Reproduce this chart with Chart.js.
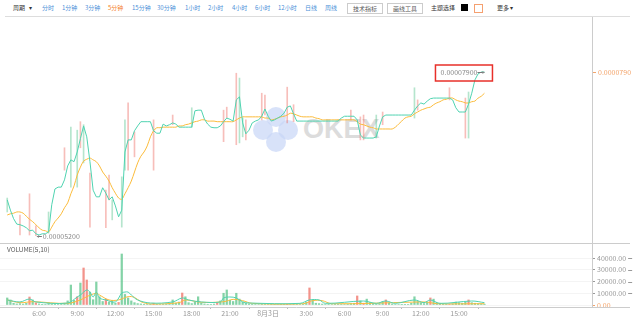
<!DOCTYPE html>
<html>
<head>
<meta charset="utf-8">
<script src="https://cdn.jsdelivr.net/npm/chart.js@4.4.1/dist/chart.umd.min.js"></script>
<style>
  html, body { margin:0; padding:0; background:#fff; width:640px; height:324px; overflow:hidden;
    font-family:"Noto Sans CJK SC","Noto Sans",sans-serif; }
  #bar span { position:absolute; top:2px; line-height:11px; font-size:6px; white-space:nowrap; color:#4a8fd8; }
  #bar .dark { color:#333; }
  #bar .on { color:#f5812c; }
  #bar .btn { top:3px; height:9px; line-height:9px; width:34px; text-align:center; border:1px solid #ccc; color:#555; }
  #bar .sw { top:4px; width:7px; height:7px; }
  #rule { position:absolute; left:5px; top:16px; width:625px; height:1px; background:#ddd; }
  .dot { position:absolute; width:20px; height:20px; border-radius:50%; background:rgba(200,214,246,0.7); z-index:0; }
  #okex { position:absolute; left:303px; top:116px; font:bold 27px/27px "Liberation Sans",Arial,sans-serif; color:#dcdcdc; z-index:0; }
  #volLabel { position:absolute; left:7px; top:245px; font-size:6.5px; line-height:8px; color:#555; z-index:2; }
  canvas { position:absolute; left:0; z-index:1; }
</style>
</head>
<body>
<div id="bar">
  <span class="dark" style="left:13px">周期</span>
  <span class="dark" style="left:29px">▾</span>
  <span style="left:42px">分时</span>
  <span style="left:62px">1分钟</span>
  <span style="left:85px">3分钟</span>
  <span class="on" style="left:108px">5分钟</span>
  <span style="left:132px">15分钟</span>
  <span style="left:157px">30分钟</span>
  <span style="left:185px">1小时</span>
  <span style="left:208px">2小时</span>
  <span style="left:232px">4小时</span>
  <span style="left:255px">6小时</span>
  <span style="left:278px">12小时</span>
  <span style="left:305px">日线</span>
  <span style="left:325px">周线</span>
  <span class="btn" style="left:347px">技术指标</span>
  <span class="btn" style="left:387px">画线工具</span>
  <span class="dark" style="left:431px">主题选择</span>
  <span class="sw" style="left:461px;background:#000"></span>
  <span class="sw" style="left:474px;background:#fff;border:1px solid #f5a070"></span>
  <span class="dark" style="left:497px">更多</span>
  <span class="dark" style="left:510px">▾</span>
</div>
<div id="rule"></div>
<div class="dot" style="left:253px;top:120px"></div>
<div class="dot" style="left:266px;top:107px"></div>
<div class="dot" style="left:278px;top:120px"></div>
<div class="dot" style="left:266px;top:132px"></div>
<div id="okex">OKEX</div>
<div id="volLabel">VOLUME(5,10)</div>
<canvas id="price" width="640" height="226" style="top:17px"></canvas>
<canvas id="vol" width="640" height="81" style="top:243px"></canvas>
<script>
(() => {
  //─── DATA (prices in units of 1e-8, one slot = 15 min from 3:30) ─────────
  const closes = [
    5790,5620,5480,5390,5380,5360,5330,5280,5290,5230,
    5210,5230,5230,5260,5710,5970,6000,6000,6120,6350,
    6450,6420,6580,6800,7010,6830,6420,5950,5840,5840,
    5990,5900,5790,5840,5690,5510,5620,6580,6780,6780,
    6930,7010,7080,7080,7080,7080,6930,6890,6890,7040,
    7010,7030,7060,7040,6990,6990,6990,6990,6990,7260,
    7270,7270,7120,7040,6990,6980,6980,7010,7080,7140,
    7120,7090,7440,7490,7060,6880,6940,7060,7090,7110,
    7170,7290,7170,7090,7110,7140,7170,7220,7320,7340,
    7210,7090,7090,7090,7090,7090,7090,7090,7090,7090,
    7090,7090,7090,7090,7090,7140,7170,7170,7170,7170,
    7110,6860,6810,6810,6810,6810,6830,7010,7160,7190,
    7190,7190,7190,7190,7190,7190,7190,7190,7270,7340,
    7390,7370,7420,7460,7470,7470,7470,7470,7470,7470,
    7440,7310,7240,7240,7240,7370,7550,7770,7870,7900,7900
  ];
  const maLine = [
    5540,5560,5570,5590,5590,5570,5520,5470,5430,5380,
    5330,5290,5280,5260,5340,5430,5490,5560,5660,5740,
    5890,6020,6200,6330,6430,6460,6480,6450,6420,6350,
    6250,6180,6100,5990,5900,5820,5800,5890,5990,6100,
    6250,6400,6510,6580,6680,6830,6930,6980,6980,6990,
    6990,6990,6990,6990,7010,7010,7030,7040,7060,7080,
    7090,7110,7110,7090,7090,7090,7080,7080,7080,7080,
    7080,7080,7110,7140,7160,7160,7160,7160,7160,7160,
    7160,7140,7140,7110,7120,7140,7160,7170,7190,7220,
    7210,7190,7170,7160,7160,7160,7160,7140,7130,7110,
    7110,7110,7110,7110,7110,7110,7110,7110,7110,7110,
    7080,7040,7030,7010,6990,6980,6960,6960,6960,6960,
    6960,6960,6990,7040,7090,7140,7160,7170,7210,7240,
    7270,7290,7310,7320,7360,7390,7410,7440,7450,7470,
    7470,7440,7420,7410,7390,7390,7410,7420,7470,7500,7550
  ];
  // visible wicks: slot, low, high, 1 = rising candle
  const wickSlots = [0,4,7,9,13,18,20,22,23,24,26,31,32,33,36,37,38,40,46,52,58,68,69,72,73,74,75,80,81,88,90,108,111,112,116,118,128,129,139,144,145];
  const wickLows  = [5590,5210,5210,5200,5240,6280,6000,6000,6650,6400,5340,5330,5790,5460,5340,6280,6280,6500,6280,7030,6990,6750,7140,6700,6730,6830,6780,7110,7190,7060,7080,7110,6780,6780,6810,7030,7140,7270,7440,6810,6810];
  const wickHighs = [5820,5540,5890,5360,5590,6650,6990,6940,7080,7030,6230,5950,6200,5790,6170,7110,7390,6910,7110,7190,7310,7270,7320,7880,7800,7140,7110,7550,7520,7650,7360,7270,7160,7190,7190,7240,7640,7440,7640,7470,7570];
  const wickRise  = [1,0,0,0,1,0,1,1,0,1,0,0,0,1,1,1,0,0,0,0,1,0,0,0,1,1,0,0,0,0,0,0,0,0,1,0,1,0,0,0,1];

  const volumes = [
    6000,4300,1500,900,1200,800,1500,6800,4300,1800,
    900,600,500,1200,800,600,500,900,1500,3500,
    17000,4000,7000,18700,31500,21300,11000,4500,19600,7000,
    3000,5000,2500,4000,1500,2200,43400,9000,6000,3500,
    2000,1200,900,600,500,700,1500,600,400,500,
    700,1200,4300,1500,2500,10200,7000,2000,1200,2500,
    7000,1800,900,600,500,800,2000,3500,10000,12800,
    4000,3000,10000,5000,2500,1500,900,600,500,400,
    700,500,400,300,300,400,300,500,700,400,
    300,300,400,300,2500,14500,4000,1500,1200,800,
    500,600,400,300,300,500,400,300,1200,1500,
    7700,3500,1500,5000,2000,1500,800,1200,3000,4300,
    1800,900,500,400,300,300,500,1500,7000,3000,
    2000,1200,2500,6000,5000,2000,1500,800,600,500,
    1000,2500,2000,1500,2500,4300,2000,1500,1200,900,700
  ];
  const volDownSlots = [7,9,22,24,25,31,35,46,55,66,88,95,110,112,119,133,139,145];
  const volMa5Slots  = [0,4,7,9,19,22,23,25,26,27,28,29,31,34,36,37,38,39,41,45,52,55,57,61,67,68,70,72,74,76,92,95,98,100,112,116,119,122,128,131,133,136,146,150];
  const volMa5       = [4300,2600,5100,2600,1700,6800,8500,12800,11000,6800,11000,6000,4300,2600,10200,11000,11000,8500,4300,1700,2600,6000,4300,2600,2600,6000,6800,6000,2600,1700,1400,4300,4300,1400,3400,1400,3400,1400,4300,2000,4300,1400,3400,2000];
  const volMa10Slots = [0,4,8,19,23,25,28,29,32,35,38,40,42,45,54,56,61,68,71,74,77,93,96,99,102,128,132,135,150];
  const volMa10      = [4300,2000,2800,1400,4300,7100,10000,8500,4300,4300,7100,6500,2800,900,2000,4300,2300,2800,4800,3700,1400,1100,3700,3700,1100,2500,2500,1100,1100];

  const xTickSlots  = [10,22,34,46,58,70,82,94,106,118,130,142];
  const xTickLabels = ['6:00','9:00','12:00','15:00','18:00','21:00','8月3日','3:00','6:00','9:00','12:00','15:00'];
  const volTicks    = [0,10000,20000,30000,40000];

  //─── STYLE ───────────────────────────────────────────────────────────────
  const TEAL = '#4fd3b0', GOLD = '#fbbb3a', ORANGE = '#f3a46b', AXIS = '#ccc', LABEL = '#999';
  const xRange = { type:'linear', min:-2.27, max:183.8, offset:false };
  const noPad = s => { s.paddingTop = 0; s.paddingBottom = 0; s.paddingLeft = 0; s.paddingRight = 0; };
  Chart.defaults.font.family = '"Noto Sans CJK SC","Noto Sans",sans-serif';
  Chart.defaults.font.size = 7;
  const pts = (xs, ys) => ys.map((v, k) => ({ x: xs ? xs[k] : k, y: v }));

  //─── PRICE PANEL ─────────────────────────────────────────────────────────
  const extremaLabels = {
    id: 'extrema',
    afterDatasetsDraw(chart) {
      const { ctx, scales: { x, y } } = chart;
      let lo = { v: Infinity, i: 0 }, hi = { v: -Infinity, i: 0 };
      closes.forEach((c, i) => { if (c < lo.v) lo = { v:c, i }; if (c >= hi.v) hi = { v:c, i }; });
      wickSlots.forEach((s, k) => {
        if (wickLows[k] < lo.v) lo = { v: wickLows[k], i: s };
        if (wickHighs[k] > hi.v) hi = { v: wickHighs[k], i: s };
      });
      ctx.save();
      ctx.font = '7px "Noto Sans CJK SC","Noto Sans",sans-serif';
      ctx.textBaseline = 'middle';
      ctx.strokeStyle = '#777'; ctx.fillStyle = '#888'; ctx.lineWidth = 1;
      // lowest
      let px = x.getPixelForValue(lo.i), py = Math.round(y.getPixelForValue(lo.v)) + 0.5;
      ctx.beginPath(); ctx.moveTo(px + 1, py); ctx.lineTo(px + 6, py); ctx.stroke();
      ctx.beginPath(); ctx.moveTo(px + 1, py); ctx.lineTo(px + 3, py - 1.5); ctx.lineTo(px + 3, py + 1.5); ctx.fill();
      ctx.textAlign = 'left';
      ctx.fillText((lo.v / 1e8).toFixed(8), px + 7, py);
      // highest
      px = x.getPixelForValue(hi.i); py = Math.round(y.getPixelForValue(hi.v)) + 0.5;
      ctx.beginPath(); ctx.moveTo(px - 7, py); ctx.lineTo(px, py); ctx.stroke();
      ctx.beginPath(); ctx.moveTo(px, py); ctx.lineTo(px - 2, py - 1.5); ctx.lineTo(px - 2, py + 1.5); ctx.fill();
      ctx.textAlign = 'right';
      ctx.fillText((hi.v / 1e8).toFixed(8), px - 7, py);
      ctx.strokeStyle = '#e8302a'; ctx.lineWidth = 1.5;
      ctx.strokeRect(px - 49, py - 7.5, 57, 16);
      ctx.restore();
    }
  };

  new Chart(document.getElementById('price'), {
    type: 'line',
    data: { datasets: [
      { type:'bar', data: wickSlots.map((s, k) => ({ x:s, y:[wickLows[k], wickHighs[k]] })),
        backgroundColor: wickRise.map(r => r ? 'rgba(70,190,130,0.4)' : 'rgba(236,100,90,0.42)'),
        barThickness: 1, order: 3 },
      { data: pts(null, closes), borderColor: TEAL, borderWidth: 1, pointRadius: 0, tension: 0, order: 1 },
      { data: pts(null, maLine), borderColor: GOLD, borderWidth: 1, pointRadius: 0, tension: 0.3, order: 2 }
    ]},
    options: {
      responsive: false, animation: false, devicePixelRatio: 1,
      layout: { padding: 0 },
      plugins: { legend: { display:false }, tooltip: { enabled:false } },
      scales: {
        x: { ...xRange, display: false },
        y: {
          position: 'right', min: 5078, max: 8808,
          afterBuildTicks: s => { s.ticks = [{ value: closes[closes.length - 1] }]; },
          afterFit: s => { s.width = 48; noPad(s); },
          ticks: { color: ORANGE, padding: 2, callback: v => (v / 1e8).toFixed(7) },
          grid: { drawOnChartArea: false, tickLength: 4, tickColor: ORANGE },
          border: { color: AXIS }
        }
      }
    },
    plugins: [extremaLabels]
  });

  //─── VOLUME PANEL ────────────────────────────────────────────────────────
  const panelLines = {
    id: 'panelLines',
    afterDraw(chart) {
      const { ctx, chartArea: a, scales: { y } } = chart;
      ctx.save();
      ctx.strokeStyle = AXIS; ctx.lineWidth = 1;
      ctx.beginPath();
      ctx.moveTo(0, a.top + 0.5); ctx.lineTo(630, a.top + 0.5);
      ctx.moveTo(a.right, a.bottom + 0.5); ctx.lineTo(630, a.bottom + 0.5);
      ctx.stroke();
      ctx.strokeStyle = LABEL;
      ctx.font = '7px "Noto Sans CJK SC","Noto Sans",sans-serif';
      y.ticks.forEach(t => {
        if (!t.value) return;
        const w = ctx.measureText(t.value.toFixed(2)).width;
        const ty = Math.round(y.getPixelForValue(t.value)) + 0.5;
        const tx = a.right + 5 + w + 2;
        ctx.beginPath(); ctx.moveTo(tx, ty); ctx.lineTo(tx + 4, ty); ctx.stroke();
      });
      ctx.restore();
    }
  };

  new Chart(document.getElementById('vol'), {
    type: 'bar',
    data: { datasets: [
      { data: pts(null, volumes),
        backgroundColor: volumes.map((v, i) => volDownSlots.includes(i) ? 'rgba(240,120,110,0.8)' : 'rgba(80,192,130,0.7)'),
        barThickness: 1.6, order: 3 },
      { type:'line', data: pts(volMa5Slots, volMa5), borderColor: TEAL, borderWidth: 1, pointRadius: 0, tension: 0.35, order: 1 },
      { type:'line', data: pts(volMa10Slots, volMa10), borderColor: GOLD, borderWidth: 1, pointRadius: 0, tension: 0.35, order: 2 }
    ]},
    options: {
      responsive: false, animation: false, devicePixelRatio: 1,
      layout: { padding: 0 },
      plugins: { legend: { display:false }, tooltip: { enabled:false } },
      scales: {
        x: {
          ...xRange,
          afterBuildTicks: s => { s.ticks = xTickSlots.map(v => ({ value: v })); },
          afterFit: s => { s.height = 17; noPad(s); },
          ticks: { autoSkip: false, maxRotation: 0, color: LABEL, padding: 0,
                   callback: v => xTickLabels[xTickSlots.indexOf(v)] },
          grid: { drawOnChartArea: false, tickLength: 2, tickColor: '#bbb' },
          border: { color: AXIS }
        },
        y: {
          position: 'right', min: -1700, max: 52770,
          afterBuildTicks: s => { s.ticks = volTicks.map(v => ({ value: v })); },
          afterFit: s => { s.width = 48; noPad(s); },
          ticks: { padding: 2, color: c => c.tick.value === 0 ? ORANGE : LABEL,
                   callback: v => v.toFixed(2) },
          grid: { color: 'rgba(0,0,0,0.045)', tickLength: 3,
                  tickColor: c => c.tick && c.tick.value === 0 ? ORANGE : LABEL },
          border: { color: AXIS }
        }
      }
    },
    plugins: [panelLines]
  });
})();
</script>
</body>
</html>
